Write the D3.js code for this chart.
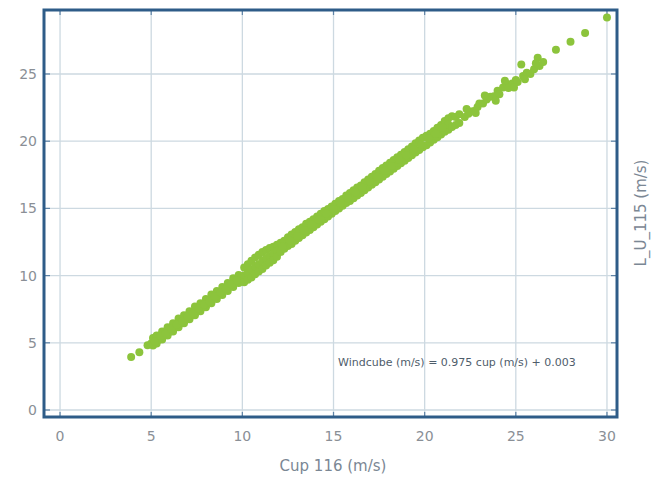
<!DOCTYPE html>
<html>
<head>
<meta charset="utf-8">
<script src="https://cdn.jsdelivr.net/npm/d3@7"></script>
<style>
  body { margin: 0; background: #fff; }
  svg text { font-family: "DejaVu Sans", "Liberation Sans", sans-serif; }
</style>
</head>
<body>
<div id="chart"></div>
<script>
// wind speed pairs (cup anemometer vs lidar)
var cup = [
  3.9, 4.35, 4.8, 5.0,
  5.1, 5.1, 5.3, 5.3, 5.45, 5.6, 5.6, 5.75, 5.9, 5.9, 6.05, 6.2, 6.2, 6.35, 6.5, 6.5, 6.65,
  6.8, 6.8, 6.95, 7.1, 7.1, 7.25, 7.4, 7.4, 7.55, 7.7, 7.7, 7.85, 8.0, 8.0, 8.15, 8.3, 8.3,
  8.45, 8.6, 8.6, 8.75, 8.9, 8.9, 9.05, 9.2, 9.2, 9.35, 9.5, 9.5, 9.65, 9.8, 9.8, 9.95,
  10.1, 10.1, 10.1, 10.3, 10.3, 10.3, 10.5, 10.5, 10.5, 10.7, 10.7, 10.7, 10.9, 10.9, 10.9,
  11.1, 11.1, 11.1, 11.3, 11.3, 11.3, 11.5, 11.5, 11.5, 11.7, 11.7, 11.7, 11.9, 11.9, 11.9,
  12.1, 12.1, 12.3, 12.3, 12.5, 12.5, 12.7, 12.7, 12.9, 12.9, 13.1, 13.1, 13.3, 13.3, 13.5, 13.5,
  13.7, 13.7, 13.9, 13.9, 14.1, 14.1, 14.3, 14.3, 14.5, 14.5, 14.7, 14.7, 14.9, 14.9, 15.1, 15.1,
  15.3, 15.3, 15.5, 15.5, 15.7, 15.7, 15.9, 15.9, 16.1, 16.1, 16.3, 16.3, 16.5, 16.5, 16.7, 16.7,
  16.9, 16.9, 17.1, 17.1, 17.3, 17.3, 17.5, 17.5, 17.7, 17.7, 17.9, 17.9, 18.1, 18.1, 18.3, 18.3,
  18.5, 18.5, 18.7, 18.7, 18.9, 18.9, 19.1, 19.1, 19.3, 19.3, 19.5, 19.5, 19.7, 19.7, 19.9, 19.9,
  20.1, 20.1, 20.3, 20.3, 20.5, 20.5, 20.7, 20.7, 20.9, 20.9, 21.1, 21.1, 21.3, 21.3, 21.3,
  21.5, 21.5, 21.7, 21.7, 21.9, 21.9,
  22.2, 22.4, 22.5, 22.7, 22.9, 23.0, 23.2, 23.4, 23.6, 23.8, 24.0, 24.1, 24.3, 24.5, 24.6,
  24.8, 25.0, 25.1, 25.3, 25.4, 25.6, 25.8, 26.0, 26.2, 26.3, 26.5, 27.2, 28.0, 28.8, 30.0,
  22.3, 22.8, 23.3, 23.9, 24.4, 24.9, 25.5, 26.1,
  5.2, 5.5, 5.8, 6.1, 6.4, 6.7, 7.0, 7.3, 7.6, 7.9, 8.2, 8.5, 8.8, 9.1, 9.4, 9.7,
  12.2, 12.6, 13.0, 13.4, 13.8, 14.2, 14.6, 15.0, 15.4, 15.8, 16.2, 16.6, 17.0, 17.4, 17.8,
  18.2, 18.6, 19.0, 19.4, 19.8, 20.2, 20.6, 21.0
];
var lidar = [
  3.94, 4.3, 4.82, 4.95,
  5.35, 4.8, 5.55, 4.95, 5.25, 5.85, 5.25, 5.6, 6.15, 5.55, 5.85, 6.45, 5.85, 6.15, 6.8, 6.15, 6.5,
  7.05, 6.45, 6.8, 7.35, 6.75, 7.1, 7.7, 7.05, 7.4, 7.95, 7.35, 7.7, 8.25, 7.65, 8.0, 8.6, 7.95,
  8.3, 8.85, 8.25, 8.6, 9.15, 8.55, 8.95, 9.45, 8.85, 9.25, 9.8, 9.15, 9.55, 10.05, 9.45, 9.85,
  10.6, 10.0, 9.5, 10.85, 10.2, 9.7, 11.1, 10.45, 9.85, 11.35, 10.7, 10.1, 11.55, 10.85, 10.3,
  11.75, 11.1, 10.5, 11.9, 11.3, 10.75, 12.05, 11.45, 10.95, 12.15, 11.6, 11.15, 12.3, 11.85, 11.4,
  12.45, 11.75, 12.6, 12.0, 12.85, 12.2, 13.05, 12.35, 13.25, 12.6, 13.45, 12.8, 13.6, 13.0, 13.85, 13.2,
  14.0, 13.4, 14.2, 13.6, 14.4, 13.8, 14.6, 14.0, 14.8, 14.2, 14.95, 14.4, 15.15, 14.6, 15.35, 14.8,
  15.55, 15.0, 15.7, 15.2, 15.95, 15.4, 16.15, 15.55, 16.35, 15.75, 16.55, 15.95, 16.7, 16.15, 16.95, 16.35,
  17.15, 16.55, 17.35, 16.75, 17.55, 16.95, 17.8, 17.15, 18.0, 17.35, 18.2, 17.55, 18.4, 17.75, 18.6, 17.95,
  18.8, 18.15, 19.0, 18.35, 19.2, 18.55, 19.4, 18.75, 19.6, 18.95, 19.85, 19.15, 20.05, 19.35, 20.25, 19.55,
  20.4, 19.7, 20.55, 19.9, 20.75, 20.1, 21.0, 20.3, 21.2, 20.5, 21.5, 20.7, 21.7, 20.85, 21.25,
  21.85, 21.05, 21.8, 21.2, 22.0, 21.35,
  21.8, 22.05, 22.2, 22.25, 22.55, 22.8, 22.8, 23.1, 23.3, 23.35, 23.75, 23.5, 24.0, 24.25, 23.95,
  24.3, 24.55, 24.4, 25.7, 24.85, 25.1, 25.0, 25.35, 26.2, 25.6, 25.9, 26.8, 27.4, 28.05, 29.2,
  22.4, 22.1, 23.4, 23.0, 24.5, 24.0, 24.6, 25.8,
  5.1, 5.5, 5.7, 6.05, 6.35, 6.6, 6.95, 7.2, 7.55, 7.85, 8.1, 8.45, 8.75, 9.0, 9.35, 9.65,
  12.15, 12.6, 12.95, 13.35, 13.8, 14.15, 14.6, 14.95, 15.4, 15.75, 16.2, 16.55, 17.0, 17.35, 17.8,
  18.15, 18.6, 18.95, 19.4, 19.75, 20.2, 20.55, 21.0
];
var xTicks = [0, 5, 10, 15, 20, 25, 30];
var yTicks = [0, 5, 10, 15, 20, 25];

var w = 662, h = 478;

var xScale = d3.scaleLinear().domain([-0.88, 30.55]).range([44, 617]);
var yScale = d3.scaleLinear().domain([-0.52, 29.76]).range([417, 10]);

var svg = d3.select("#chart").append("svg")
  .attr("width", w)
  .attr("height", h);

var x0 = xScale.range()[0], x1 = xScale.range()[1];
var y0 = yScale.range()[0], y1 = yScale.range()[1];

// grid
svg.append("g").selectAll("line").data(xTicks).enter().append("line")
  .attr("x1", d => xScale(d)).attr("x2", d => xScale(d))
  .attr("y1", y1).attr("y2", y0)
  .attr("stroke", "#cdd9e1").attr("stroke-width", 1.3);
svg.append("g").selectAll("line").data(yTicks).enter().append("line")
  .attr("y1", d => yScale(d)).attr("y2", d => yScale(d))
  .attr("x1", x0).attr("x2", x1)
  .attr("stroke", "#cdd9e1").attr("stroke-width", 1.3);

// inward tick marks on the frame
var tk = svg.append("g").attr("stroke", "#5f83a6").attr("stroke-width", 1.2);
xTicks.forEach(function(d) {
  tk.append("line").attr("x1", xScale(d)).attr("x2", xScale(d)).attr("y1", y0).attr("y2", y0 - 5);
  tk.append("line").attr("x1", xScale(d)).attr("x2", xScale(d)).attr("y1", y1).attr("y2", y1 + 5);
});
yTicks.forEach(function(d) {
  tk.append("line").attr("y1", yScale(d)).attr("y2", yScale(d)).attr("x1", x0).attr("x2", x0 + 6);
  tk.append("line").attr("y1", yScale(d)).attr("y2", yScale(d)).attr("x1", x1).attr("x2", x1 - 6);
});

// points
svg.append("g").selectAll("circle").data(cup).enter().append("circle")
  .attr("cx", d => xScale(d))
  .attr("cy", (d, i) => yScale(lidar[i]))
  .attr("r", 4)
  .attr("fill", "#8cc43c");

// frame
svg.append("rect")
  .attr("x", x0).attr("y", y1)
  .attr("width", x1 - x0).attr("height", y0 - y1)
  .attr("fill", "none")
  .attr("stroke", "#2e5c88")
  .attr("stroke-width", 3);

// tick labels
svg.append("g").selectAll("text").data(xTicks).enter().append("text")
  .attr("x", d => xScale(d))
  .attr("y", 441)
  .attr("text-anchor", "middle")
  .attr("font-size", 14)
  .attr("fill", "#8a8f96")
  .text(d => d);
svg.append("g").selectAll("text").data(yTicks).enter().append("text")
  .attr("x", 37)
  .attr("y", d => yScale(d) + 5)
  .attr("text-anchor", "end")
  .attr("font-size", 14)
  .attr("fill", "#8a8f96")
  .text(d => d);

// axis titles
svg.append("text")
  .attr("x", 333).attr("y", 471)
  .attr("text-anchor", "middle")
  .attr("font-size", 15)
  .attr("fill", "#7b8794")
  .text("Cup 116 (m/s)");
svg.append("text")
  .attr("transform", "translate(646,213) rotate(-90)")
  .attr("text-anchor", "middle")
  .attr("font-size", 15)
  .attr("fill", "#7b8794")
  .text("L_U_115 (m/s)");

// regression note
svg.append("text")
  .attr("x", 338).attr("y", 366)
  .attr("font-size", 11)
  .attr("fill", "#4f5d6b")
  .text("Windcube (m/s) = 0.975 cup (m/s) + 0.003");
</script>
</body>
</html>
